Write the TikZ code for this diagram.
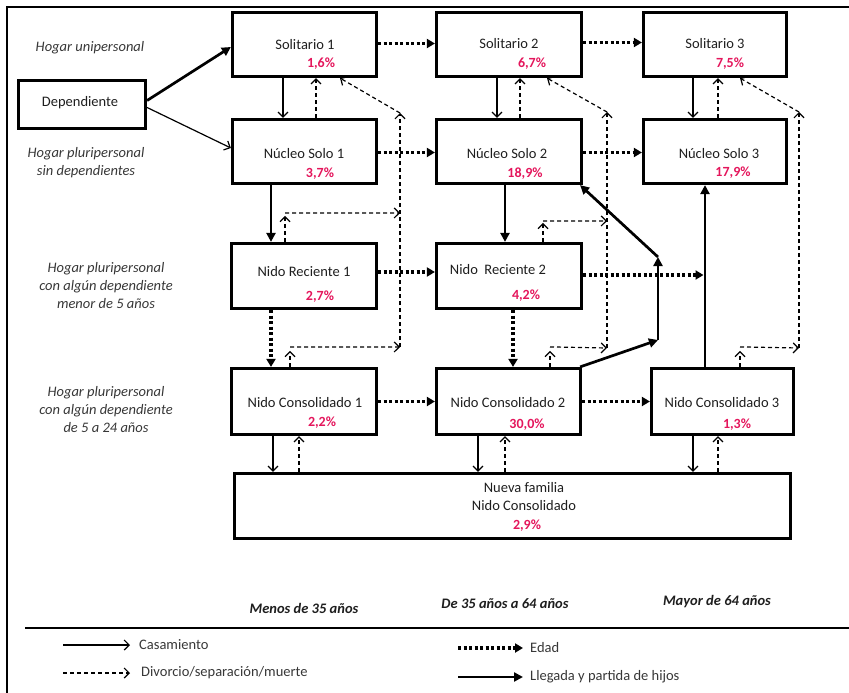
\documentclass[tikz,border=0pt]{standalone}
\usepackage{fontspec}
\setmainfont{Carlito}
\usetikzlibrary{arrows.meta,calc}

\definecolor{pct}{RGB}{228,22,92}
\definecolor{lbl}{RGB}{55,55,55}
\definecolor{ink}{RGB}{30,30,30}

\tikzset{
  box/.style={draw, line width=3.2pt, inner sep=0pt},
  ttl/.style={font=\fontsize{14.5}{17}\selectfont, text=ink, inner sep=0pt},
  pc/.style={font=\fontsize{14}{16}\selectfont\bfseries, text=pct, inner sep=0pt},
  grp/.style={font=\fontsize{14.5}{18}\selectfont\itshape, text=lbl, align=center, inner sep=0pt},
  agetxt/.style={font=\fontsize{14.5}{17}\selectfont\bfseries\itshape, text=ink, inner sep=0pt},
  legtxt/.style={font=\fontsize{14.5}{17}\selectfont, text=lbl, inner sep=0pt, anchor=west},
  mar/.style={line width=1.2pt, -{Straight Barb[length=5pt,width=10pt,line width=1.2pt]}},
  div/.style={mar, dash pattern=on 4pt off 3pt},
  edad/.style={line width=3.2pt, dash pattern=on 3pt off 2.5pt, -{Triangle[length=8pt,width=9pt]}},
  kid/.style={line width=2.7pt, -{Triangle[length=9pt,width=9pt]}},
}

\begin{document}
\begin{tikzpicture}[x=1pt,y=-1pt]
\useasboundingbox (0,0) rectangle (849,693);

% frame and legend rule
\draw[line width=1.8pt] (7,693) -- (7,7) -- (849,7);
\draw[line width=1.8pt] (25,628) -- (849,628);

% boxes
\node[box, minimum width=144pt, minimum height=64pt] (sol1) at (304.5,44.5) {};
\node[box, minimum width=145pt, minimum height=64pt] (sol2) at (509,44.5) {};
\node[box, minimum width=143pt, minimum height=64pt] (sol3) at (715,44.5) {};
\node[box, minimum width=127pt, minimum height=48pt] (dep) at (82,104.5) {};
\node[box, minimum width=144pt, minimum height=64pt] (ns1) at (304.5,151.5) {};
\node[box, minimum width=145pt, minimum height=64pt] (ns2) at (509,151.5) {};
\node[box, minimum width=143pt, minimum height=64pt] (ns3) at (715,151.5) {};
\node[box, minimum width=145pt, minimum height=65pt] (nr1) at (304,276) {};
\node[box, minimum width=145pt, minimum height=65pt] (nr2) at (509,276) {};
\node[box, minimum width=145pt, minimum height=66pt] (nc1) at (304,401.5) {};
\node[box, minimum width=144pt, minimum height=66pt] (nc2) at (508.5,401.5) {};
\node[box, minimum width=142pt, minimum height=66pt] (nc3) at (722.5,401.5) {};
\node[box, minimum width=556pt, minimum height=65pt] (nf) at (512.5,506) {};

% box texts
\node[ttl] (dep-t) at (80,103) {Dependiente};
\node[ttl] (sol1-t) at (305,45) {Solitario 1};
\node[pc]  (sol1-p) at (321,64) {1,6\%};
\node[ttl] (sol2-t) at (509,44) {Solitario 2};
\node[pc]  (sol2-p) at (532,64) {6,7\%};
\node[ttl] (sol3-t) at (715,44) {Solitario 3};
\node[pc]  (sol3-p) at (730,64) {7,5\%};
\node[ttl] (ns1-t) at (304,154) {Núcleo Solo 1};
\node[pc]  (ns1-p) at (320,174) {3,7\%};
\node[ttl] (ns2-t) at (507,154) {Núcleo Solo 2};
\node[pc]  (ns2-p) at (525,174) {18,9\%};
\node[ttl] (ns3-t) at (719,154) {Núcleo Solo 3};
\node[pc]  (ns3-p) at (733,173) {17,9\%};
\node[ttl] (nr1-t) at (304,272) {Nido Reciente 1};
\node[pc]  (nr1-p) at (320,297) {2,7\%};
\node[ttl] (nr2-t) at (498,270) {Nido~~Reciente 2};
\node[pc]  (nr2-p) at (526,296) {4,2\%};
\node[ttl] (nc1-t) at (305,403) {Nido Consolidado 1};
\node[pc]  (nc1-p) at (322,423) {2,2\%};
\node[ttl] (nc2-t) at (508,403) {Nido Consolidado 2};
\node[pc]  (nc2-p) at (527,425) {30,0\%};
\node[ttl] (nc3-t) at (722,403) {Nido Consolidado 3};
\node[pc]  (nc3-p) at (737,425) {1,3\%};
\node[ttl] (nf-t1) at (524,488) {Nueva familia};
\node[ttl] (nf-t2) at (524,506) {Nido Consolidado};
\node[pc]  (nf-p) at (527,526) {2,9\%};

% row labels
\node[grp] (g1) at (90,48) {Hogar unipersonal};
\node[grp] (g2) at (86,163) {Hogar pluripersonal\\sin dependientes};
\node[grp] (g3) at (106,286) {Hogar pluripersonal\\con algún dependiente\\menor de 5 años};
\node[grp] (g4) at (106,410) {Hogar pluripersonal\\con algún dependiente\\de 5 a 24 años};

% column labels
\node[agetxt] (a1) at (304,608) {Menos de 35 años};
\node[agetxt] (a2) at (505,604) {De 35 años a 64 años};
\node[agetxt] (a3) at (717,602) {Mayor de 64 años};

% from Dependiente
\draw[kid] ([yshift=4pt]dep.east) -- ([yshift=-2.5pt]sol1.west);
\draw[mar] ([yshift=-3pt]dep.east) -- ([yshift=3.5pt]ns1.west);

% marriage: Solitario -> Nucleo Solo, Nido Consolidado -> Nueva familia
\draw[mar] ([xshift=-21.5pt]sol1.south) coordinate (t) -- (t |- ns1.north);
\draw[mar] ([xshift=-12pt]sol2.south) coordinate (t) -- (t |- ns2.north);
\draw[mar] ([xshift=-22pt]sol3.south) coordinate (t) -- (t |- ns3.north);
\draw[mar] ([xshift=-31pt]nc1.south) coordinate (t) -- (t |- nf.north);
\draw[mar] ([xshift=-30.5pt]nc2.south) coordinate (t) -- (t |- nf.north);
\draw[mar] ([xshift=-29.5pt]nc3.south) coordinate (t) -- (t |- nf.north);

% divorce / separation / death: direct returns
\draw[div] ([xshift=11.5pt]ns1.north) coordinate (t) -- (t |- sol1.south);
\draw[div] ([xshift=11pt]ns2.north) coordinate (t) -- (t |- sol2.south);
\draw[div] ([xshift=3pt]ns3.north) coordinate (t) -- (t |- sol3.south);
\draw[div] ([xshift=-5pt]nf.north -| nc1.south) coordinate (t) -- (t |- nc1.south);
\draw[div] ([xshift=-3.5pt]nf.north -| nc2.south) coordinate (t) -- (t |- nc2.south);
\draw[div] ([xshift=-4.5pt]nf.north -| nc3.south) coordinate (t) -- (t |- nc3.south);

% divorce trunks towards Solitario
\coordinate (tr1top) at (400,113);
\coordinate (tr1mid) at (400,213);
\coordinate (tr1bot) at (400,347);
\coordinate (tr2top) at (607,112);
\coordinate (tr2mid) at (607,221);
\coordinate (tr2bot) at (607,348);
\coordinate (tr3top) at (799,112);
\coordinate (tr3bot) at (799,348);

\draw[div] (tr1bot) -- (tr1top);
\draw[div] (tr1top) -- ([xshift=35.5pt]sol1.south);
\draw[div] ([xshift=-19pt]nr1.north) -- ++(0,-26);
\draw[div] ([xshift=-19pt,yshift=29pt]nr1.north) -- (tr1mid);
\draw[div] ([xshift=-14pt]nc1.north) -- ++(0,-16);
\draw[div] ([xshift=-14pt,yshift=20pt]nc1.north) -- (tr1bot);

\draw[div] (tr2bot) -- (tr2top);
\draw[div] (tr2top) -- ([xshift=38pt]sol2.south);
\draw[div] ([xshift=34pt]nr2.north) -- ++(0,-19);
\draw[div] ([xshift=34pt,yshift=21pt]nr2.north) -- (tr2mid);
\draw[div] ([xshift=41.5pt]nc2.north) -- ++(0,-16);
\draw[div] ([xshift=41.5pt,yshift=20pt]nc2.north) -- (tr2bot);

\draw[div] (tr3bot) -- (tr3top);
\draw[div] (tr3top) -- ([xshift=25pt]sol3.south);
\draw[div] ([xshift=17.5pt]nc3.north) -- ++(0,-16);
\draw[div] ([xshift=17.5pt,yshift=20pt]nc3.north) -- (tr3bot);

% arrival and departure of children
\draw[kid] ([xshift=-33.5pt]ns1.south) coordinate (t) -- (t |- nr1.north);
\draw[kid] ([xshift=-4pt]ns2.south) coordinate (t) -- (t |- nr2.north);
\coordinate (bend1) at (658,340);
\coordinate (bend2) at (658,257);
\draw[kid] ([xshift=-2pt]nc2.north east) -- (bend1);
\draw[kid] (bend1) -- (bend2);
\draw[kid] (bend2) -- ([xshift=-3pt]ns2.south east);
\draw[kid] ([xshift=-17.5pt]nc3.north) coordinate (up3) -- (up3 |- ns3.south);

% age
\draw[edad] ([yshift=1pt]sol1.east) -- ([yshift=1pt]sol2.west);
\draw[edad] ([yshift=2pt]sol2.east) -- ([yshift=2pt]sol3.west);
\draw[edad] ([yshift=-1pt]ns1.east) -- ([yshift=-1pt]ns2.west);
\draw[edad] ([yshift=-1pt]ns2.east) -- ([yshift=-1pt]ns3.west);
\draw[edad] ([yshift=4pt]nr1.east) -- ([yshift=4pt]nr2.west);
\draw[edad, shorten >=1.5pt] ([yshift=1pt]nr2.east) coordinate (t) -- (t -| up3);
\draw[edad] (nc1.east) -- (nc2.west);
\draw[edad] (nc2.east) -- (nc3.west);
\draw[edad] ([xshift=-33pt]nr1.south) coordinate (t) -- (t |- nc1.north);
\draw[edad] ([xshift=4pt]nr2.south) coordinate (t) -- (t |- nc2.north);

% legend
\coordinate (l1a) at (63,645);  \coordinate (l1b) at (130,645);
\coordinate (l2a) at (63,673);  \coordinate (l2b) at (130,673);
\coordinate (l3a) at (458,648); \coordinate (l3b) at (523,648);
\coordinate (l4a) at (458,677); \coordinate (l4b) at (523,677);
\draw[mar] (l1a) -- (l1b);
\draw[div] (l2a) -- (l2b);
\draw[edad] (l3a) -- (l3b);
\draw[kid] (l4a) -- (l4b);
\node[legtxt] (l1t) at (139,645) {Casamiento};
\node[legtxt] (l2t) at (141,673) {Divorcio/separación/muerte};
\node[legtxt] (l3t) at (530,648) {Edad};
\node[legtxt] (l4t) at (530,677) {Llegada y partida de hijos};
\end{tikzpicture}
\end{document}
